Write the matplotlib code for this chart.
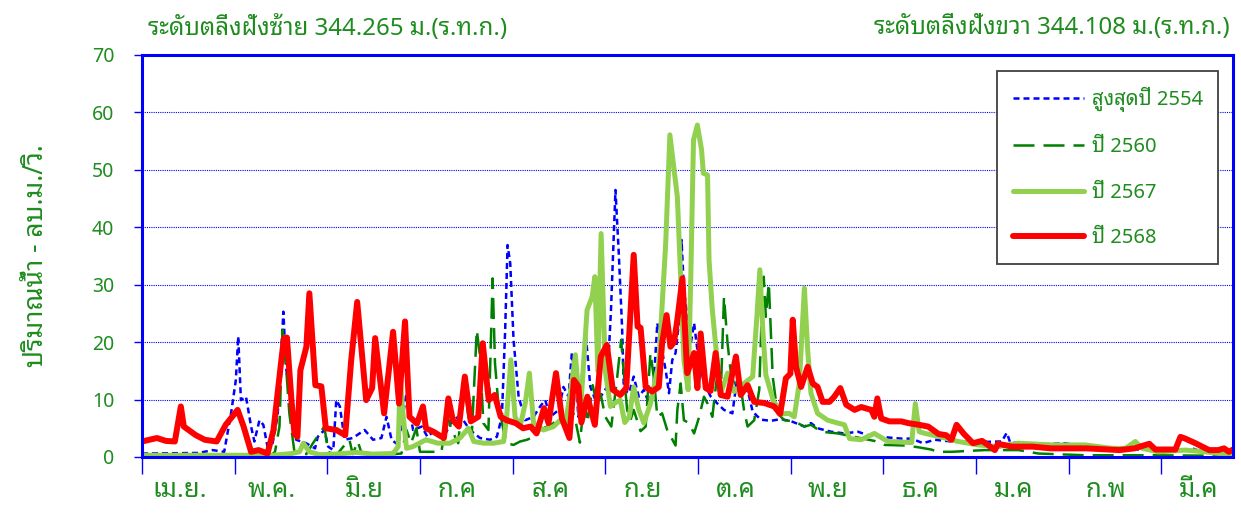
import matplotlib
matplotlib.use("Agg")
import matplotlib.pyplot as plt
from matplotlib import font_manager

# Thai-capable font, with DejaVu as per-glyph fallback
names = {f.name for f in font_manager.fontManager.ttflist}
thai = 'DejaVu Sans'
for cand in ['Noto Sans Thai Looped', 'IBM Plex Sans Thai Looped', 'Sarabun',
             'Noto Sans Thai', 'Bai Jamjuree']:
    if cand in names:
        thai = cand
        break
plt.rcParams['font.family'] = [thai, 'DejaVu Sans']

# day index counted from 1 April
months = ['เม.ย.', 'พ.ค.', 'มิ.ย', 'ก.ค', 'ส.ค', 'ก.ย', 'ต.ค', 'พ.ย', 'ธ.ค', 'ม.ค', 'ก.พ', 'มี.ค']

# สูงสุดปี 2554
day_2554 = [0, 19, 23.6, 27.5, 29.8, 31.4, 32.2, 33.1, 34.8, 36.5, 37.6, 39.3, 40.6, 42, 43.7,
            45.4, 46.5, 47.3, 48.2, 49.9, 51.6, 54.9, 57.9, 58.8, 61, 62.3, 64, 65, 66.2, 67.8,
            70.5, 72.8, 74.5, 77.3, 80.1, 81.8, 83.5, 85.7, 88.5, 90.7, 93.6, 95.5, 97.4, 100.8,
            103.6, 105.8, 107.5, 109.7, 113.1, 116.4, 118.7, 120.4, 121.5, 122.3, 123.2, 124.3,
            126, 128.2, 131, 133.2, 134.9, 136.6, 139.4, 141, 142.7, 143.8, 145, 146, 147.1,
            148.5, 150, 151.7, 153.4, 155.6, 156.9, 158.4, 159.5, 160.6, 161.2, 162.9, 164.5,
            166.2, 167.9, 169.6, 171.2, 172.4, 173.5, 175.2, 176.3, 177.4, 178.5, 179.6, 180.5,
            181.3, 182.4, 183.6, 184.7, 185.8, 188, 190.3, 192.5, 194.7, 197.5, 199.2, 200.3,
            202.6, 204.3, 207, 210.4, 213.8, 217.3, 221.6, 223.8, 226, 230.5, 235, 239.5, 242.8,
            247.3, 254, 257.4, 261.3, 265.2, 270.8, 279.8, 287.6, 289.3, 290.4, 297.7, 308.8,
            315.5, 326.7, 337.9, 349, 351.3, 354.7, 365]
val_2554 = [0.6, 0.7, 1.2, 0.9, 7.6, 13.4, 21.0, 9.9, 10.5, 5.3, 2.7, 6.4, 5.6, 1.8, 2.4,
            7.3, 17.5, 25.3, 15.7, 8.2, 3.0, 2.4, 1.5, 3.5, 4.7, 1.8, 1.2, 9.9, 8.8, 3.0,
            3.3, 4.1, 4.7, 3.0, 3.3, 7.0, 3.0, 2.1, 11.1, 4.7, 5.3, 3.5, 4.4, 3.3,
            6.2, 7.0, 6.4, 4.7, 3.3, 3.0, 3.5, 7.0, 22.1, 36.9, 33.7, 20.4,
            10.5, 6.4, 7.0, 8.8, 9.9, 7.0, 8.2, 12.2, 10.5, 18.1, 13.7, 7.0, 13.7,
            21.0, 12.2, 9.9, 10.5, 12.2, 25.6, 46.5, 35.5, 22.7, 11.7, 11.1, 14.0,
            10.5, 11.7, 9.3, 12.8, 23.3, 19.8, 15.1, 11.1, 16.9, 18.1, 23.3, 37.8,
            29.1, 24.4, 19.8, 23.3, 18.6, 12.8, 10.5, 9.3, 8.2, 7.6, 14.0, 11.1,
            11.7, 7.9, 6.5, 6.3, 6.6, 6.2, 5.3, 5.9, 5.0, 4.4, 4.1, 4.4, 3.8,
            3.5, 3.2, 3.2, 2.4, 3.0, 2.7, 2.6, 2.7, 4.2, 2.6, 2.1, 2.4,
            1.8, 1.5, 1.2, 1.2, 1.5, 0.9, 0.6]

# ปี 2560
day_2560 = [0, 43, 44.5, 46, 47, 48.2, 49.3, 51, 55, 57.2, 59.4, 61, 62.3, 65, 68.3, 69.4, 70.5,
            72.2, 73.3, 80, 86.8, 88.5, 90, 91.8, 93, 95.7, 100.2, 101.9, 103.6, 105.8, 107.7,
            109.2, 110.3, 112, 113.1, 114.2, 115.9, 117.3, 118.1, 119.2, 120.9, 122, 124.3, 126.5,
            128.8, 131, 133.2, 135.5, 137.7, 139.9, 141.6, 143.3, 145, 146.5, 148, 149, 150.8,
            152.2, 153.4, 155, 157, 159, 160.3, 161.2, 162.3, 163.4, 164.5, 166.8, 168.5, 170.1,
            171.2, 172.4, 174, 175.7, 178.5, 179.1, 180.2, 181.3, 183, 184.7, 186.4, 188, 189.2,
            190.8, 192.5, 193.6, 194.7, 195.9, 197, 198.1, 200.3, 201.4, 202.6, 204.8, 206.5,
            207.1, 208, 208.7, 209.7, 210.4, 211, 212.6, 214.9, 218.2, 221.6, 223.8, 227.2, 232.8,
            238.4, 245, 248.4, 255.2, 259.6, 264, 266.3, 270.8, 282, 293.2, 299.9, 315.5, 337.9,
            365]
val_2560 = [0.2, 0.2, 0.9, 5.3, 22.1, 15.7, 7.6, 0.9, 0.5, 2.4, 4.1, 5.3, 0.9, 0.3, 2.4, 3.0, 0.5,
            2.7, 0.9, 0.3, 0.6, 4.7, 2.4, 5.0, 0.9, 0.9, 0.9, 7.6, 4.7, 2.4, 13.4,
            7.0, 3.5, 22.1, 17.5, 5.9, 4.7, 31.1, 16.3, 9.3, 4.7, 2.4, 2.1, 2.7,
            3.0, 3.5, 4.7, 5.3, 5.9, 7.6, 5.3, 9.3, 6.4, 2.5, 10.0, 6.0, 12.5,
            9.0, 11.0, 7.0, 5.3, 14.0, 20.4, 14.6, 8.2, 6.4, 8.2, 4.5, 5.3, 18.1,
            14.0, 7.0, 7.6, 4.7, 2.0, 8.2, 12.8, 6.4, 5.9, 4.1, 7.0, 10.5, 9.3,
            7.0, 14.6, 10.5, 27.9, 19.8, 14.6, 12.8, 12.2, 8.2, 5.3, 6.4, 11.7,
            21.5, 31.4, 24.4, 30.3, 21.5, 14.0, 7.6, 6.4, 6.2, 5.3, 5.6, 4.4, 4.1,
            3.5, 2.8, 2.1, 2.0, 1.7, 1.3, 0.9, 0.9, 1.2, 1.2, 0.6, 0.3, 0.3,
            0.2]

# ปี 2567
day_2567 = [0, 20, 44, 50, 52.7, 54, 56, 59.5, 65, 71.7, 77, 84, 85.7, 86.4, 87.4, 88.5, 90.6, 95,
            99, 103, 106.4, 109.2, 111, 114.4, 117.6, 121, 122, 123.4, 124.8, 126.5, 128.2, 129.6,
            131, 134.3, 137.7, 139.9, 141.6, 143.3, 145, 146.6, 148.9, 150.6, 151.5, 152.5, 153.6,
            155, 156.7, 158.5, 160, 161.5, 163, 164.5, 166.2, 167.9, 170.1, 172.9, 175.2, 176.6,
            179.1, 180.2, 181.3, 182.7, 183.6, 184.5, 185.8, 187.2, 187.8, 189.2, 189.7, 190.8,
            192.5, 193.6, 195.9, 198.1, 201.4, 204.3, 205.7, 206.7, 207.7, 208.7, 211.2, 214,
            216.5, 218.2, 219.9, 221.6, 222.7, 223.8, 226, 229.4, 232.8, 235, 236.7, 240.6, 245,
            249.5, 254, 257.5, 258.7, 260, 262, 266.3, 273, 279.8, 286.4, 293.2, 304.4, 315.5,
            324.5, 329, 332.3, 334.6, 340, 349, 355.7, 365]
val_2567 = [0.3, 0.3, 0.3, 0.6, 0.9, 2.4, 0.9, 0.4, 0.5, 0.8, 0.5, 0.6, 1.8, 13.7, 7.0, 1.5, 1.8, 3.0,
            2.4, 2.4, 3.3, 5.0, 2.7, 2.4, 2.4, 2.7, 7.0, 16.9, 7.0, 5.3, 9.3, 14.6,
            5.9, 4.7, 5.3, 6.4, 5.6, 11.1, 17.8, 7.3, 25.6, 27.9, 31.4, 15.0, 38.9,
            15.0, 8.8, 9.5, 9.9, 6.0, 7.0, 12.2, 8.2, 5.9, 9.3, 16.3, 37.2, 56.1,
            45.3, 31.4, 16.9, 11.7, 31.4, 55.2, 57.8, 53.5, 49.4, 49.1, 34.3, 25.6,
            16.3, 11.1, 14.6, 11.4, 12.8, 14.0, 24.4, 32.6, 22.0, 14.3, 9.8, 7.5,
            7.6, 7.0, 12.8, 29.4, 18.6, 11.1, 7.6, 6.4, 5.9, 5.6, 3.2, 3.0, 4.1,
            2.7, 2.6, 2.5, 9.3, 4.4, 4.1, 3.6, 2.7, 2.1, 1.8, 2.4, 2.1, 2.1,
            1.5, 1.5, 2.7, 1.5, 0.9, 1.2, 0.9, 0.3]

# ปี 2568
day_2568 = [0, 5, 8, 11, 13, 14, 18, 21, 25, 28, 32, 34, 36.5, 39, 42, 44, 46.5, 47.5, 48.5, 50,
            51, 52, 53, 55, 56, 58, 60, 61.5, 65, 68, 70, 72, 75, 77, 78, 81, 84, 86, 88, 89.5,
            92, 94, 95, 97.5, 101, 102.5, 104, 106, 108, 110, 112.5, 114, 116, 118, 120, 122,
            125, 127.5, 130, 132, 134.5, 136, 138.5, 140.5, 143, 144.5, 146, 147, 149, 151.5,
            153.5, 155.5, 157.5, 160, 162, 164.5, 165.8, 166.8, 168.5, 170.7, 172.9, 174, 175.5,
            176.8, 178, 179.1, 180.8, 182.4, 184.7, 185.8, 186.9, 188.6, 190.2, 191.9, 193.6,
            195.9, 198.7, 200.3, 202.6, 204.8, 208.2, 211.5, 213.5, 215.4, 216.9, 217.7, 218.8,
            220.5, 222.7, 224.4, 226, 227.7, 230, 231.6, 233.6, 235.6, 238.4, 240.6, 244, 245,
            246, 247.3, 250, 254, 256.3, 260, 263, 266.5, 269, 270.8, 272.5, 275, 278, 281, 283,
            285.3, 286.4, 291, 298, 304, 316, 327, 332, 337, 339, 345.7, 347.4, 349, 352.4, 357,
            360, 362, 363.6, 365]
val_2568 = [2.7, 3.3, 2.8, 2.7, 8.8, 5.3, 3.8, 3.0, 2.7, 5.6, 8.2, 5.3, 0.9, 1.2, 0.6, 4.7, 16.3,
            20.7, 20.8, 9.9, 4.1, 3.5, 15.1, 19.2, 28.5, 12.5, 12.3, 5.0, 4.7, 3.8, 16.9, 27.0,
            9.9, 12.0, 20.7, 7.6, 21.8, 9.3, 23.6, 7.0, 5.8, 8.8, 5.0, 4.4, 3.3, 10.2, 6.4, 5.3,
            14.0, 6.2, 7.0, 19.8, 9.9, 10.8, 7.0, 6.4, 5.9, 5.0, 5.3, 4.1, 8.5, 5.9, 14.6, 6.7,
            3.3, 13.4, 12.3, 6.0, 10.5, 5.6, 17.5, 19.5, 11.7, 10.8, 12.0, 35.2, 22.7, 22.5,
            12.2, 11.4, 12.2, 19.8, 24.7, 19.2, 20.0, 23.9, 31.1, 14.6, 18.1, 12.0, 21.5, 12.0,
            11.5, 18.1, 10.8, 10.5, 17.5, 10.8, 12.5, 9.6, 9.4, 8.8, 7.5, 13.7, 14.5, 23.9, 15.7,
            12.2, 15.7, 12.8, 12.2, 9.6, 9.6, 10.5, 12.0, 9.1, 8.2, 8.7, 8.2, 7.0, 10.2, 6.7,
            6.2, 6.2, 5.9, 5.6, 5.3, 4.0, 3.8, 3.0, 5.6, 4.0, 2.4, 2.8, 2.1, 1.2, 2.3, 1.8, 1.8,
            1.5, 1.5, 1.2, 1.5, 2.3, 1.3, 1.3, 3.5, 3.2, 2.4, 1.2, 1.2, 1.5, 0.9, 1.3]

text_green = '#1f8c1f'
blue = '#0000ff'


def main():
    fig = plt.figure(figsize=(12.41, 5.13), dpi=100)
    ax = fig.add_axes([0.1144, 0.1092, 0.8792, 0.7836])

    ax.plot(day_2554, val_2554, color=blue, lw=1.8, linestyle=(0, (2.4, 1.6)),
            label='สูงสุดปี 2554')
    ax.plot(day_2560, val_2560, color='#008000', lw=1.8, linestyle=(0, (8.4, 3.6)),
            label='ปี 2560')
    ax.plot(day_2567, val_2567, color='#92d050', lw=3.6, solid_capstyle='round',
            solid_joinstyle='round', label='ปี 2567')
    ax.plot(day_2568, val_2568, color='#ff0000', lw=4.3, solid_capstyle='round',
            solid_joinstyle='round', label='ปี 2568')

    ax.set_xlim(0, 365)
    ax.set_ylim(0, 70)

    # y axis
    ax.set_yticks(range(0, 71, 10))
    ax.tick_params(axis='y', direction='out', length=6, width=1, color=blue,
                   labelcolor=text_green, labelsize=14, pad=14)
    ax.yaxis.grid(True, color=blue, linestyle=(0, (1, 1)), linewidth=0.8)
    ax.set_axisbelow(True)

    # x axis: tick every 31 days, month names between ticks
    ax.set_xticks(range(0, 365, 31))
    ax.set_xticklabels([])
    ax.tick_params(axis='x', direction='out', length=12, width=1, color=blue)
    for i, m in enumerate(months):
        ax.text(i * 31 + 12.5, -3.6, m, ha='center', va='top', fontsize=18.5,
                color=text_green)

    for s in ax.spines.values():
        s.set_color(blue)
        s.set_linewidth(2.2)

    ax.set_ylabel('ปริมาณน้ำ - ลบ.ม./วิ.', color=text_green, fontsize=19, labelpad=30)

    fig.text(148 / 1241, 1 - 28 / 513, 'ระดับตลิ่งฝั่งซ้าย 344.265 ม.(ร.ท.ก.)',
             ha='left', va='center', fontsize=17.3, color=text_green)
    fig.text(1230 / 1241, 1 - 28 / 513, 'ระดับตลิ่งฝั่งขวา 344.108 ม.(ร.ท.ก.)',
             ha='right', va='center', fontsize=17.3, color=text_green)

    leg = ax.legend(loc='upper left', bbox_to_anchor=(0.784, 0.4925, 0.202, 0.4675),
                    mode='expand', borderaxespad=0, fontsize=14.5, labelcolor=text_green,
                    fancybox=False, framealpha=1, edgecolor='#404040', handlelength=3.5,
                    labelspacing=1.25, borderpad=0.8, handletextpad=0.4)
    leg.get_frame().set_linewidth(1.3)

    fig.savefig('out.png', dpi=100)


if __name__ == '__main__':
    main()
